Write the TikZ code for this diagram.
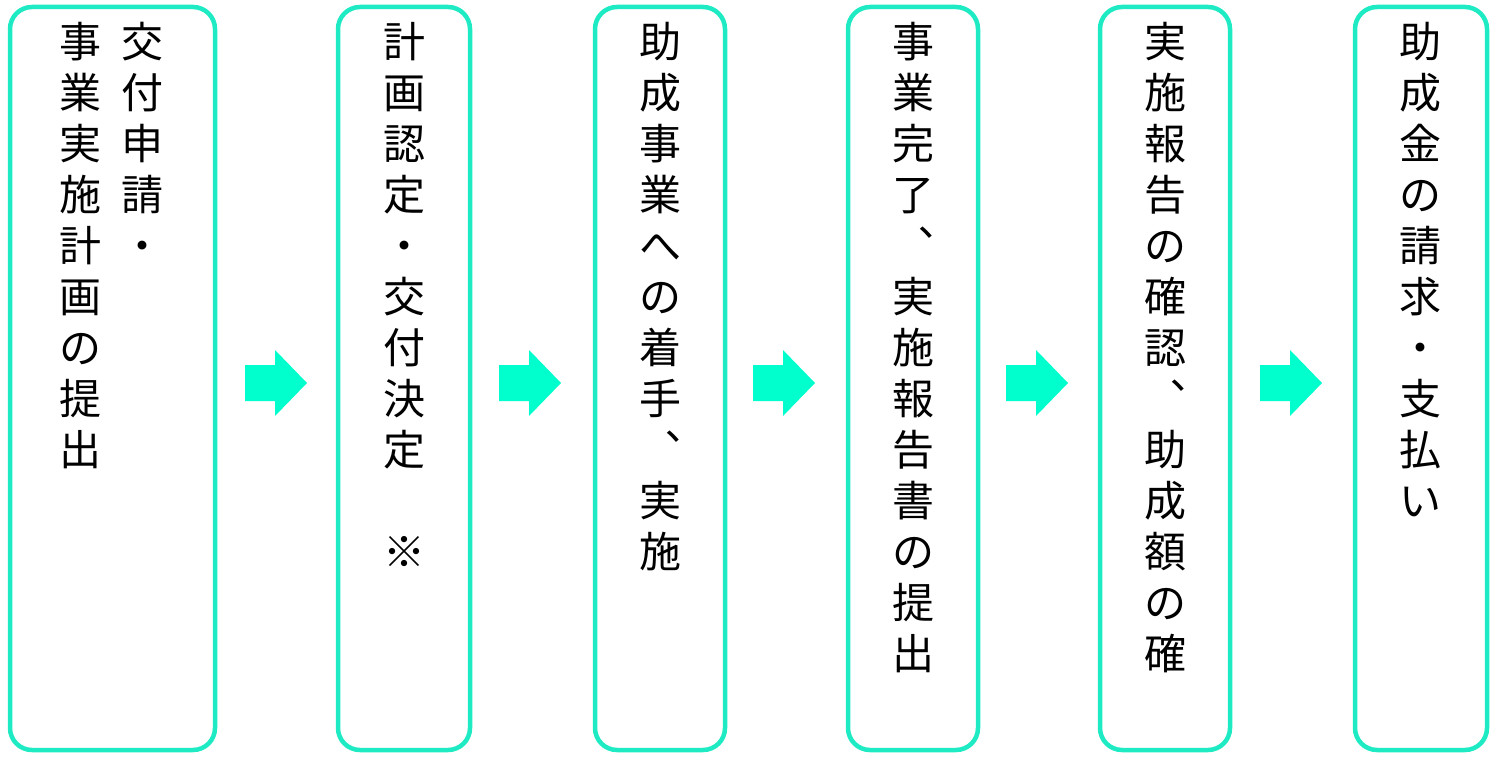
\documentclass[tikz,border=0pt]{standalone}
\usepackage{fontspec}
\setmainfont{Noto Sans CJK JP}
\definecolor{bd}{HTML}{1EEBC3}
\definecolor{ar}{HTML}{00FFCC}
\begin{document}
\begin{tikzpicture}[x=1pt,y=-1pt,
 box/.style={draw=bd,line width=4.5pt,rounded corners=22pt},
 col/.style={anchor=north,inner sep=0pt,align=center,font=\fontsize{42pt}{51pt}\selectfont},
 arr/.style={fill=ar,draw=none}]
\useasboundingbox (0,0) rectangle (1494,760);
\draw[box] (10,7) rectangle (215,750);
\draw[box] (338,7) rectangle (470,750);
\draw[box] (595,7) rectangle (725,750);
\draw[box] (848,7) rectangle (978,750);
\draw[box] (1100,7) rectangle (1230,750);
\draw[box] (1355,7) rectangle (1487,750);
\node[col] (c1a) at (142,22) {交\\付\\申\\請\\・};
\node[col] (c1b) at (80,22) {事\\業\\実\\施\\計\\画\\の\\提\\出};
\node[col] (c2) at (404,22) {計\\画\\認\\定\\・\\交\\付\\決\\定\\\strut\\※};
\node[col] (c3) at (660,22) {助\\成\\事\\業\\へ\\の\\着\\手\\︑\\実\\施};
\node[col] (c4) at (913,22) {事\\業\\完\\了\\︑\\実\\施\\報\\告\\書\\の\\提\\出};
\node[col] (c5) at (1165,22) {実\\施\\報\\告\\の\\確\\認\\︑\\助\\成\\額\\の\\確};
\node[col] (c6) at (1420,22) {助\\成\\金\\の\\請\\求\\・\\支\\払\\い};
\foreach \x in {245,499,753,1006,1260}
 \fill[arr] (\x,365) -- (\x+30,365) -- (\x+30,350) -- (\x+62,383) -- (\x+30,416) -- (\x+30,401) -- (\x,401) -- cycle;
\end{tikzpicture}
\end{document}
